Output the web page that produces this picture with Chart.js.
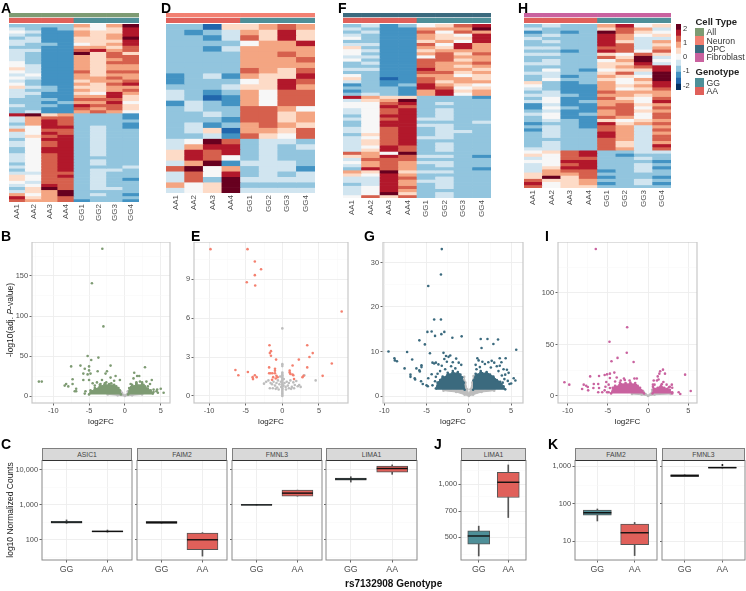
<!DOCTYPE html>
<html>
<head>
<meta charset="utf-8">
<title>rs7132908 genotype figure</title>
<script src="https://cdn.jsdelivr.net/npm/chart.js@4"></script>
<style>
html, body { margin: 0; padding: 0; background: #fff; }
#page { position: relative; width: 746px; height: 591px; overflow: hidden; font-family: "Liberation Sans", Arial, sans-serif; filter: blur(0.3px); }
#page canvas { position: absolute; }
.txt { position: absolute; white-space: nowrap; line-height: 1; }
.letter { font-weight: bold; font-size: 14px; color: #000; }
.strip { position: absolute; box-sizing: border-box; background: #D9D9D9; border: 1px solid #7F7F7F; border-bottom-color: #333; font-size: 6.8px; color: #444; text-align: center; line-height: 11px; }
.swatch { position: absolute; width: 9px; }
</style>
</head>
<body>
<div id="page"></div>
<script>
// sample and colour keys
var samples = ['AA1', 'AA2', 'AA3', 'AA4', 'GG1', 'GG2', 'GG3', 'GG4'];
var rdbu = ['#053061', '#2166AC', '#4393C3', '#92C5DE', '#D1E5F0', '#F7F7F7', '#FDDBC7', '#F4A582', '#D6604D', '#B2182B', '#67001F'];
var scaleEdges = [-2.31, -1.89, -1.47, -1.05, -0.63, -0.21, 0.21, 0.63, 1.05, 1.47, 1.89, 2.31];
var scaleTicks = [-2, -1, 0, 1, 2];
var cellTypes = ['All', 'Neuron', 'OPC', 'Fibroblast'];
var cellColors = ['#7E9B73', '#F28072', '#3B6A7E', '#C9629F'];
var genotypes = ['GG', 'AA'];
var genoColors = ['#4E8F98', '#E0605A'];

// heatmap rows, binned z-score as rdbu step (-5..5), one row per line
var heatA = [
[-2,-2,-2,-2,2,0,2,5],[-1,-2,-3,-2,1,0,1,4],[0,-1,-3,-3,2,1,1,4],[-1,-2,-3,-3,2,1,2,4],[-2,-1,-3,-3,1,1,2,5],
[-1,-1,-3,-3,1,1,1,4],[-1,-2,-2,-3,0,1,2,4],[-2,-2,-3,-3,2,2,1,3],[-1,-1,-3,-3,3,4,2,3],[-1,-2,-3,-3,5,1,3,1],
[-1,-2,-3,-3,2,1,3,3],[-1,-2,-3,-3,2,1,2,3],[0,-2,-3,-3,2,1,3,3],[0,-1,-3,-3,2,1,2,2],[1,-1,-3,-3,2,1,2,2],
[0,-1,-3,-3,3,1,3,3],[-1,0,-3,-3,2,1,2,2],[0,-1,-3,-3,2,2,3,2],[-1,-2,-3,-3,1,2,2,3],[0,-2,-3,-3,2,1,3,4],
[1,-1,-2,-3,1,1,2,2],[-1,-2,-2,-3,2,1,2,3],[-1,-1,-3,-3,1,0,4,2],[-1,-2,-3,-3,2,2,4,1],[-2,-2,-2,-3,3,3,3,1],
[-2,-2,-3,-2,2,2,4,0],[-1,-2,-2,-3,4,3,3,1],[-2,-2,-3,-3,3,2,3,1],[-2,-1,-3,-3,2,3,2,0],
[4,5,1,2,-2,-2,-2,-3],[-1,2,3,3,-2,-2,-2,-3],[-1,2,4,3,-2,-2,-2,-2],[-2,2,4,3,-2,-2,-2,-3],[-1,0,4,4,-2,-1,-2,-3],
[2,0,3,3,-2,-1,-2,-2],[-1,0,4,3,-2,-1,-2,-2],[-1,1,3,4,-2,-1,-2,-2],[-2,0,4,4,-2,-1,-2,-2],[-1,0,3,4,-2,-1,-2,-2],
[-1,0,3,4,-2,-1,-2,-2],[-2,0,4,4,-2,-1,-2,-2],[-2,0,4,4,-2,-1,-2,-2],[-1,0,3,4,-2,-1,-2,-2],[-1,0,3,4,-2,-2,-2,-2],
[-1,0,3,4,-2,-1,-2,-2],[-2,0,3,4,-2,-1,-2,-2],[-1,0,3,4,-2,-2,-2,-1],[-2,0,3,4,-2,-1,-1,-2],[-1,-1,3,3,-2,-1,-2,-2],
[1,0,3,4,-2,-1,-2,-2],[1,0,3,3,-2,-1,-2,-3],[0,-1,3,3,-2,-1,-2,-2],[-1,0,4,3,-2,-1,-2,-2],[-2,1,5,3,-2,-1,-1,-2],
[-1,1,2,5,-2,-2,-2,-2],[2,0,2,5,-2,-1,-2,-3],[4,1,2,3,-2,-2,-2,-2],[3,2,2,3,-3,-2,-2,-3]
];
var heatD = [
[-2,-2,-4,1,1,2,3,2],[-2,-3,-2,-1,2,1,4,1],[-2,-2,-3,-1,3,1,4,1],[-2,-2,-2,-2,0,2,2,4],[-2,-2,-3,-1,2,2,2,2],
[-2,-2,-2,-2,2,2,3,2],[-2,-2,-2,-2,2,2,2,3],[-2,-2,-2,-2,2,2,2,2],[-2,-2,-2,-2,3,2,1,3],[-3,-2,-1,-3,2,1,1,4],
[-3,-2,-2,-2,0,1,4,3],[-2,-2,-2,-1,1,1,4,2],[-1,-2,-3,-2,2,0,3,3],[-1,-2,-4,-3,2,0,3,3],[-3,-1,-2,-3,2,0,3,3],
[-2,-1,-2,-2,3,3,2,0],[-2,-2,-1,-2,3,3,1,2],[-2,-2,-2,-3,3,3,1,2],[-2,-1,-3,-2,2,3,2,1],[-2,-1,1,-4,2,2,1,3],
[-2,-2,-1,-3,3,1,0,3],
[-1,0,5,3,-2,-1,-1,-2],[-1,2,4,4,-2,-1,-2,-1],[1,4,3,4,-2,-1,-2,-2],[1,4,3,0,-2,-1,-2,-2],[-1,2,5,-3,-1,-1,-1,-2],
[3,5,0,2,-2,-1,-1,-3],[-1,3,0,4,-2,-1,-2,-1],[-1,3,-2,5,-1,-1,-1,-1],[2,0,1,5,-2,-2,-2,-2],[-1,0,1,5,-1,-1,-1,-1]
];
var heatF = [
[-2,-1,-3,-2,0,1,3,4],[-1,-2,-3,-3,2,2,2,5],[-2,-1,-3,-3,3,0,3,2],[-1,-2,-3,-3,2,1,0,4],[0,-2,-3,-3,2,1,1,4],
[-2,-2,-3,-3,1,2,0,4],[-1,-1,-3,-3,3,0,4,2],[1,-2,-3,-3,2,1,4,2],[0,-1,-3,-3,1,2,2,2],[0,-2,-3,-3,2,3,1,3],
[-1,-1,-3,-3,0,3,2,2],[0,-2,-3,-3,3,3,1,2],[-2,-1,-3,-3,3,2,2,3],[-2,-2,-3,-3,3,2,1,2],[-1,-1,-3,-3,4,2,2,1],
[-2,-2,-3,-3,3,3,1,2],[0,-2,-3,-3,2,2,0,1],[1,-2,-4,-3,3,2,2,1],[-1,-2,-3,-3,3,1,2,2],[-3,-2,-3,-2,4,2,1,0],
[-2,-2,-2,-3,4,3,0,1],[-3,-2,-2,-3,2,4,1,2],[-2,-1,-2,-3,2,4,0,2],
[4,2,1,1,-2,-2,-2,-3],[-1,1,2,5,-2,-2,-2,-2],[0,0,3,4,-2,-1,-2,-2],[0,0,4,3,-2,-2,-2,-2],[-1,0,3,4,-2,-1,-2,-2],
[-1,0,3,4,-2,-1,-2,-2],[-2,0,4,4,-2,-1,-2,-2],[-1,0,3,4,-1,-1,-2,-2],[-2,0,4,4,-2,-2,-2,-1],[-2,0,4,4,-1,-1,-2,-2],
[-1,0,3,4,-2,-1,-2,-2],[-1,0,3,4,-2,-1,-1,-2],[-2,1,3,4,-2,-1,-2,-2],[-1,0,3,4,-1,-1,-2,-2],[-1,1,3,4,-2,-2,-2,-2],
[-1,1,3,4,-2,-1,-2,-2],[-1,0,4,3,-2,-1,-2,-2],[-1,1,4,3,-2,-1,-2,-2],[3,2,0,5,-2,-2,-2,-2],[1,2,4,3,-1,-1,-2,-3],
[-1,3,3,3,-2,-2,-2,-2],[0,2,3,2,-1,-1,-2,-2],[-1,2,3,2,-2,-1,-2,-2],[-2,4,3,2,-2,-2,-2,-3],[2,1,5,1,-1,-1,-2,-2],
[1,0,4,2,-2,-2,-2,-2],[-1,-1,4,3,-2,-1,-2,-2],[-1,-1,4,2,-1,-1,-2,-2],[-2,-1,4,2,-2,-1,-2,-2],[-1,0,4,3,-2,-1,-2,-2],
[-1,0,4,2,-2,-2,-2,-2],[-1,0,5,1,-2,-1,-2,-2],[0,3,1,3,-2,-1,-2,-2]
];
var heatH = [
[-2,-1,-2,-2,2,4,0,1],[-1,-2,-2,-2,1,3,2,-1],[-3,-2,-3,-2,5,3,1,0],[-2,-1,-2,-2,4,2,0,1],[-1,-2,-2,-2,4,2,-1,-1],
[-2,-1,-2,-2,4,1,-1,2],[-2,-2,-2,-2,4,3,-1,1],[-1,-1,-2,-2,3,3,-1,2],[-2,-2,-3,-2,4,3,0,3],[-1,-1,-2,-2,1,0,3,1],
[-2,-2,-2,-2,3,1,5,-1],[-2,-1,-2,-2,0,2,5,0],[-1,-1,-2,-2,1,1,4,-1],[-2,-2,-2,-2,1,2,3,4],[-2,0,-2,-3,0,1,1,4],
[-1,-1,-2,-2,1,3,-1,5],[-2,-1,-3,-2,2,1,0,5],[-2,0,-2,-2,1,0,2,5],[1,-2,-3,-2,2,0,1,4],[0,-2,-3,-3,2,1,2,4],
[-1,-2,-3,-3,2,0,1,3],[-2,-1,-3,-3,3,2,2,2],[-1,-1,-2,-3,2,2,1,2],[-2,0,-3,-3,3,1,0,3],[-1,0,-3,-2,2,2,0,4],
[-3,-1,-3,-3,2,3,1,2],[-3,0,-2,-3,3,3,0,3],[-2,-1,-3,-3,2,3,1,2],[-1,0,-3,-2,2,3,0,3],[-2,0,-3,-3,3,2,0,3],
[-2,-1,-2,-3,1,0,1,2],[-3,-2,-2,-3,4,1,2,3],[-2,-1,-2,-3,3,2,-1,2],[-3,-1,-2,-2,3,2,-1,3],[-2,-1,-2,-2,4,2,-1,2],
[-2,-1,-2,-2,4,2,-1,3],[-2,-2,-2,-2,3,2,-1,3],[-2,-1,-2,-2,3,1,-1,2],[-2,-1,-2,-2,3,1,-1,4],[-1,-1,-2,-2,3,2,-1,3],
[0,1,3,4,-2,-2,-1,-1],[1,0,3,4,-2,-3,-2,-2],[-1,0,3,3,-2,-2,-1,-2],[0,0,4,4,-2,-2,-2,-3],[-1,0,3,4,-2,-2,-1,-2],
[-1,1,4,4,-2,-2,-1,-3],[-1,2,3,3,-3,-2,-1,-2],[1,2,2,3,-2,-2,-2,-2],[1,5,1,3,-3,-2,-2,-3],[3,1,1,2,-2,-2,-1,-2],
[4,0,1,2,-3,-2,-1,-3],[3,0,1,1,-2,-2,-2,-2]
];

// volcano points, [log2FC, -log10 adj. P]
var volcBDots = [[-3.15,184],[-4.6,141],[-3,87],[-5.2,50],[-4.7,45],[-3.7,48],[-2,38],[-7.5,37],[-6.2,38],[-5.6,34],[-5,37],[-5,32],[-3.8,31],[-2.5,31],[-2.7,28],[-5.8,28],[-5.2,27],[-4.8,28],[-7.3,21],[-5.8,20],[-5,20],[-12,18],[-11.6,18],[-8.2,15],[-8.4,13],[-7.9,12],[-7.3,15],[-6.8,9],[-7,6],[-6.8,6],[-5.5,6],[-5.6,3],[-4.5,16],[-3.2,20],[-2,23],[-1.3,25],[-0.7,20],[-1.5,19],[-3.9,17],[-2.6,17],[-1.9,16],[-3.4,15],[-4.2,13],[2.8,36],[1.3,29],[1.7,25],[2,25],[1.2,22],[3.75,20],[2.1,18],[3,18],[2.4,17],[3.5,15],[4,8],[4.4,6],[5,9],[5.4,4],[4.5,8],[4,5],[3.8,4],[3.2,12],[1.6,17],[0.8,15],[2.6,14],[4.6,4]];
var volcBLeft = [[-5,2],[-4.8,7],[-4.5,6],[-4.2,10],[-3.8,9],[-3.5,14],[-3.2,12],[-2.8,16],[-2.5,13],[-2.2,15],[-1.8,13],[-1.5,14],[-1.2,12],[-0.9,10],[-0.7,7],[-0.55,2]];
var volcBRight = [[0.45,2],[0.6,10],[1,14],[1.3,12],[1.6,16],[2,13],[2.4,15],[2.8,12],[3.2,9],[3.6,7],[3.9,3]];
var volcBGreyTop = [[-2.4,3.5],[-1,4],[-0.6,6],[-0.4,4],[-0.2,1.5],[0,0.6],[0.2,1.5],[0.4,6],[0.6,4],[2.4,3.5]];
var volcBGreyLow = [[-2.4,1.8],[-1,0.8],[0,0],[1,0.8],[2.4,1.8]];

var volcERed = [[-9.8,11.3],[-4.75,11.3],[-3.75,10.35],[-2.9,9.75],[-3.75,9.3],[-4.85,8.75],[-3.7,8.5],[8.1,6.5],[3.4,3.9],[-1.75,3.9],[-1.55,3.45],[-1.7,3.3],[-1.55,3.1],[4.15,3.3],[3.7,3],[-0.85,2.8],[2.25,2.8],[6.75,2.5],[1.4,2.35],[3.4,2.2],[-1.8,2.2],[-6.4,2],[-6,1.6],[-4.7,1.85],[-3.75,1.6],[-3.5,1.45],[-4.05,1.45],[-4,1.3],[5.5,1.55],[-1,2.1],[-1,1.95],[-1.6,1.75],[-1.35,1.75],[-1,1.75],[-1.8,1.75],[1,1.95],[1,1.8],[1.4,1.65],[1.5,1.6],[1.1,1.7],[1.6,1.3],[2.9,1.55],[2.75,1.45],[-0.8,1.55],[-1.25,1.45],[-0.65,1.45],[-1.4,1.25],[-0.9,1.35]];
var volcEGrey = [[0,5.2],[0,2.45],[0,2.3],[0,1.8],[0,1.7],[0,1.6],[0,1.5],[0,1.4],[0,1.3],[0,1.2],[0,1.1],[0,1],[0,0.9],[0,0.8],[0,0.7],[0,0.6],[0,0.5],[0,0.4],[0,0.3],[0,0.2],[0,0.1],[0,0],[4.55,1.2],[-2.2,1.1],[-1.9,1.2],[-1.6,1],[-1.4,0.9],[-1.2,1.1],[-1,0.8],[-0.8,1],[-0.6,1.2],[-0.4,0.9],[-0.3,1.5],[-0.2,1.1],[-0.15,0.7],[0.15,0.8],[0.2,1.3],[0.3,1],[0.45,0.7],[0.6,1.1],[0.75,0.8],[0.9,1],[1.1,1.2],[1.3,0.7],[1.5,1.05],[1.7,0.85],[1.9,1.15],[2.1,0.75],[2.3,0.85],[2.5,0.7],[-1.7,0.6],[-1.3,0.6],[-0.9,0.55],[-0.5,0.5],[0.5,0.5],[0.9,0.6],[1.2,0.55],[1.6,0.6],[-2.5,0.95],[-0.7,0.65],[3,1.6]];

var volcGDots = [[-3.2,33],[-3.3,27.3],[-4.8,24.7],[-4.1,17.2],[-3.3,17.2],[-4.9,14.4],[-4.4,14.5],[-2.9,14.4],[-3.25,13.9],[-4,13.5],[-0.85,13.4],[-1.95,13.1],[-5.85,12.5],[-5.2,11.6],[1.4,12.8],[2.2,12.8],[3.45,12.7],[2.9,11.7],[1.5,10.8],[5.6,10.4],[-9.5,10],[-7.3,9.9],[-4.6,9.6],[-3,9.7],[-8.8,8.5],[-8.75,8],[-8.5,7.8],[-6.7,8.2],[-7.6,6.2],[-5.6,6.9],[-5.6,6.5],[-6.2,6.2],[-5.85,5.8],[-5.8,5.5],[-6.9,4.8],[-6.9,4.3],[-6.4,4],[-6.35,3.7],[-5.65,3.3],[-5.45,2.7],[-5,2.4],[-4.85,2.2],[-4.8,4],[-4.3,7.5],[-4.1,7.3],[-3.9,7.5],[-3.6,7.1],[-3.2,6.8],[-2.9,8.3],[-2.7,9],[-2.4,8.8],[-2.2,9.1],[-2.6,7.7],[-1.9,7.6],[-1.5,8.4],[-1.2,7.5],[-0.9,7],[-2.1,6.7],[-3.4,5.6],[-4.4,4.9],[-4,3.3],[-4.3,2.4],[-3.7,5],[-3.9,4.3],[-1.6,6.2],[-2.8,6],[5.3,4],[5.5,3.5],[4.8,2.7],[5,2.8],[4.7,5.2],[4.35,8.5],[3.65,8.5],[3.85,7.6],[3.65,6.8],[2.7,7.9],[1,8.5],[1.15,8],[1.6,7.7],[0.8,7],[1.9,7.2],[2.3,7.6],[3,7.5],[3.3,6.7],[4.1,6],[4.5,5.9],[4.3,4.8],[4.6,3.4],[3.9,4.6],[3.5,5.6],[2.6,6.4],[1.3,6.5],[0.9,6],[4.2,3.8],[4,3]];
var volcGLeft = [[-3.9,1.7],[-3.7,3],[-3.4,3.6],[-3.1,4.4],[-2.8,4.2],[-2.5,5.2],[-2.2,4.8],[-1.9,5.6],[-1.6,5],[-1.3,5.4],[-1,4.8],[-0.8,4.2],[-0.6,3],[-0.5,1.4]];
var volcGRight = [[0.5,1.4],[0.55,3.5],[0.8,5],[1.1,4.8],[1.4,5.6],[1.8,5],[2.1,5.4],[2.5,4.8],[2.9,4.4],[3.3,3.6],[3.7,3.2],[4.1,2.2],[4.3,1.5]];
var volcGGreyTop = [[-3,1.5],[-1,1.6],[-0.7,3],[-0.55,4.3],[-0.4,3],[-0.2,1.5],[0,0.4],[0.2,1.5],[0.4,3],[0.55,4.5],[0.7,2],[1,1.6],[3,1.5]];
var volcGGreyLow = [[-3,1.2],[-1.5,0.9],[-0.5,0.3],[0,0],[0.5,0.3],[1.5,0.9],[3,1.2]];

var volcIDots = [[-6.5,142.7],[-2.6,66.7],[-4.8,52.7],[-2.65,42],[-3.8,37],[-4.55,33.7],[-1.8,33],[-4.2,22.7],[-4.75,21.7],[-5.1,21],[-5.4,20.4],[-7.2,19],[-6.1,19.4],[-10.4,13.3],[-9.8,11],[-8,11],[-7.7,10],[-7.5,8.7],[-8.2,6.8],[-7.45,5.5],[-6.8,7.8],[-6.75,11.6],[-6.2,11.6],[-6.1,7.8],[-6.2,3.6],[-5.7,3.6],[-5.4,5.5],[-5.1,3.6],[-4.9,3.6],[-4.75,7.8],[-5.2,13.6],[-4.75,17.5],[-3.9,18],[-4.1,14],[-1.7,17],[-1.4,17],[-3.4,15],[-2.9,15.5],[-2.3,15],[-3,17],[-5.3,9],[-4.9,11],[1.85,25.6],[1.5,24],[1.4,21.7],[2.1,21.7],[1.2,19],[1.1,15],[0.7,15],[1.3,16],[4.6,20.7],[5.3,4.9],[3.8,3.6],[4,2],[2.95,11],[2.6,8.5],[3,8],[3,3.6],[1.9,13.6],[2.3,11],[0.8,11],[1.7,11.5],[2.7,9],[0.6,11]];
var volcILeft = [[-4.6,2.5],[-4.4,8],[-4.1,10],[-3.8,9],[-3.5,13],[-3.1,11],[-2.8,12.5],[-2.5,11],[-2.2,13],[-1.9,11],[-1.6,12.5],[-1.3,10],[-1,8],[-0.7,5],[-0.5,2.5]];
var volcIRight = [[0.55,2.5],[0.6,9],[0.8,7],[1.2,8],[1.6,10],[2,8],[2.4,7],[2.7,6],[3,2.5]];
var volcIGreyTop = [[-2,2.8],[-0.8,3.2],[-0.55,4],[-0.3,1.8],[0,0.4],[0.3,1.8],[0.5,6],[0.6,3],[2.8,2.8]];
var volcIGreyLow = [[-2,2],[-0.8,1.2],[0,0],[0.8,1.2],[2.8,2]];

// boxplots, each gene [GG, AA] with whisker low, q1, median, q3, whisker high
var boxGroups = ['GG', 'AA'];
var asic1 = [[295, 300, 320, 340, 370], [165, 170, 173, 180, 190]];
var faim2 = [[295, 295, 310, 335, 335], [34, 52, 100, 155, 160]];
var fmnl3 = [[985, 985, 1000, 1020, 1020], [1780, 1780, 2170, 2640, 2640]];
var lima1 = [[4500, 5100, 5500, 5900, 6400], [7500, 8700, 11000, 13000, 14000]];
var lima1Fib = [[390, 456, 507, 543, 577], [646, 840, 1026, 1170, 1288]];
var faim2Fib = [[35, 50, 58, 68, 73], [4.2, 8.2, 17, 29, 32]];
var fmnl3Fib = [[530, 530, 563, 600, 600], [890, 890, 920, 950, 950]];
var fmnl3FibOut = [1080];
var ticksC = [100, 1000, 10000];
var minorC = [31.6, 316, 3160];
var ticksJ = [500, 700, 1000];
var minorJ = [400, 600, 850, 1200];
var ticksK = [10, 100, 1000];
var minorK = [3.16, 31.6, 316];

var page = document.getElementById('page');
var FONT = '"Liberation Sans", Arial, sans-serif';
var TICK = '#4D4D4D';

function text(str, x, y, cls, css) {
	var d = document.createElement('div');
	d.className = 'txt ' + (cls || '');
	d.innerHTML = str;
	d.style.left = x + 'px';
	d.style.top = y + 'px';
	if (css) d.style.cssText += css;
	page.appendChild(d);
	return d;
}

// canvas placed so that the chart area lands on box = [left, top, right, bottom]
function addChart(box, m, config) {
	var c = document.createElement('canvas');
	c.style.left = (box[0] - m.l) + 'px';
	c.style.top = (box[1] - m.t) + 'px';
	c.width = box[2] - box[0] + m.l + m.r;
	c.height = box[3] - box[1] + m.t + m.b;
	page.appendChild(c);
	config.options = config.options || {};
	config.options.responsive = false;
	config.options.animation = false;
	config.options.layout = { autoPadding: false, padding: { top: m.t, right: m.rp === undefined ? m.r : m.rp, left: 0, bottom: 0 } };
	config.options.plugins = config.options.plugins || {};
	config.options.plugins.legend = { display: false };
	config.options.plugins.tooltip = { enabled: false };
	return new Chart(c, config);
}

// fixed axis thickness, and no extra room for labels at the axis ends
function fitAxis(prop, size) {
	return function(s) {
		s[prop] = size;
		s.paddingTop = 0;
		s.paddingBottom = 0;
		s.paddingLeft = 0;
		s.paddingRight = 0;
	};
}

var frame = {
	id: 'frame',
	afterDatasetsDraw: function(chart, args, opts) {
		var a = chart.chartArea, ctx = chart.ctx;
		ctx.save();
		ctx.strokeStyle = opts.color;
		ctx.lineWidth = opts.width;
		ctx.strokeRect(a.left, a.top, a.right - a.left, a.bottom - a.top);
		ctx.restore();
	}
};

function heatmap(rows, box, cell) {
	var sets = rows.map(function(row) {
		return {
			data: row.map(function() { return 1; }),
			backgroundColor: row.map(function(v) { return rdbu[v + 5]; }),
			borderWidth: 0, barPercentage: 1, categoryPercentage: 1
		};
	});
	addChart(box, { l: 0, r: 0, t: 0, b: 24 }, {
		type: 'bar',
		data: { labels: samples, datasets: sets },
		options: { scales: {
			x: { stacked: true, grid: { display: false, drawTicks: false }, border: { display: false },
				ticks: { minRotation: 90, maxRotation: 90, autoSkip: false, padding: 2, color: TICK, font: { family: FONT, size: 8 } },
				afterFit: fitAxis('height', 24) },
			y: { display: false, stacked: true, reverse: true, min: 0, max: rows.length }
		} }
	});
	// annotation bars over the heatmap
	var geno = samples.map(function(s) { return s.indexOf('AA') == 0 ? genoColors[1] : genoColors[0]; });
	addChart([box[0], 13, box[2], 23], { l: 0, r: 0, t: 0, b: 0 }, {
		type: 'bar',
		data: { labels: samples, datasets: [
			{ data: samples.map(function() { return 4.8; }), backgroundColor: geno },
			{ data: samples.map(function() { return 0.6; }), backgroundColor: '#fff' },
			{ data: samples.map(function() { return 4.6; }), backgroundColor: cell }
		] },
		options: {
			datasets: { bar: { borderWidth: 0, barPercentage: 1, categoryPercentage: 1 } },
			scales: { x: { display: false, stacked: true }, y: { display: false, stacked: true, min: 0, max: 10 } }
		}
	});
}

function gridOpts(major) {
	function isMajor(c) { return c.tick && major.indexOf(c.tick.value) >= 0; }
	return {
		offset: false,
		color: function(c) { return isMajor(c) ? '#EDEDED' : '#F6F6F6'; },
		lineWidth: function(c) { return isMajor(c) ? 0.9 : 0.5; },
		tickColor: function(c) { return isMajor(c) ? '#555' : 'rgba(0,0,0,0)'; },
		tickLength: 2.5
	};
}

function axisTicks(major, minor, fmt) {
	return {
		after: function(s) {
			s.ticks = major.concat(minor).map(function(v) { return { value: v }; });
		},
		ticks: {
			autoSkip: false, maxRotation: 0, minRotation: 0, padding: 1.5, color: TICK, font: { family: FONT, size: 7.4 },
			callback: function(v) { return major.indexOf(v) >= 0 ? (fmt ? fmt(v) : String(v)) : ''; }
		}
	};
}

function dots(points, color) {
	return { data: points, backgroundColor: color, borderWidth: 0, pointRadius: 1.3, pointBorderWidth: 0 };
}
function blob(points, color, fill) {
	return { data: points, showLine: true, fill: fill, backgroundColor: color, borderColor: color, borderWidth: 1, pointBackgroundColor: color, pointRadius: 1.3, pointBorderWidth: 0, tension: 0 };
}

function volcano(box, sets, xr, yr, xMajor, xMinor, yMajor, yMinor) {
	var xt = axisTicks(xMajor, xMinor), yt = axisTicks(yMajor, yMinor);
	addChart(box, { l: 26, r: 2, t: 0, b: 26 }, {
		type: 'scatter',
		data: { datasets: sets },
		plugins: [frame],
		options: {
			plugins: { frame: { color: '#C8C8C8', width: 1.2 } },
			scales: {
				x: { type: 'linear', min: xr[0], max: xr[1], grid: gridOpts(xMajor), border: { display: false }, ticks: xt.ticks, afterBuildTicks: xt.after,
					afterFit: fitAxis('height', 26),
					title: { display: true, text: 'log2FC', color: '#222', padding: { top: 0, bottom: 2 }, font: { family: FONT, size: 8 } } },
				y: { type: 'linear', min: yr[0], max: yr[1], grid: gridOpts(yMajor), border: { display: false }, ticks: yt.ticks, afterBuildTicks: yt.after,
					afterFit: fitAxis('width', 26) }
			}
		}
	});
}

function boxPanel(box, l, gene, outlier, title, yr, major, minor, width, fmt, showY) {
	var yt = axisTicks(major, minor, fmt);
	var xt = axisTicks([1, 2], [], function(v) { return boxGroups[v - 1]; });
	xt.ticks.font = { family: FONT, size: 8.8 };
	xt.ticks.padding = 2;
	var sets = [
		{ type: 'line', showLine: false, data: gene.map(function(g, i) { return { x: i + 1, y: g[2] }; }), pointStyle: 'line', pointRadius: width / 2, pointBorderWidth: 1.4, pointBorderColor: '#111' },
		{ data: gene.map(function(g, i) { return { x: i + 1, y: [g[1], g[3]] }; }), backgroundColor: [genoColors[0], genoColors[1]], borderColor: '#555', borderWidth: 1, barThickness: width, grouped: false, borderSkipped: false },
		{ data: gene.map(function(g, i) { return { x: i + 1, y: [g[0], g[4]] }; }), backgroundColor: '#555', borderWidth: 0, barThickness: 1, grouped: false }
	];
	if (outlier) sets.unshift({ type: 'line', showLine: false, data: outlier.map(function(v) { return { x: 2, y: v }; }), pointRadius: 1, backgroundColor: '#111', borderWidth: 0 });
	addChart(box, { l: l, r: 1, t: 0, b: 16 }, {
		type: 'bar',
		data: { datasets: sets },
		plugins: [frame],
		options: {
			plugins: { frame: { color: '#8A8A8A', width: 1 } },
			scales: {
				x: { type: 'linear', offset: false, min: 0.4, max: 2.6, grid: gridOpts([1, 2]), border: { display: false }, ticks: xt.ticks, afterBuildTicks: xt.after,
					afterFit: fitAxis('height', 16) },
				y: { type: 'logarithmic', bounds: 'data', min: yr[0], max: yr[1], grid: gridOpts(major), border: { display: false },
					ticks: showY ? yt.ticks : { display: false }, afterBuildTicks: yt.after,
					afterFit: fitAxis('width', l) }
			}
		}
	});
	var st = document.createElement('div');
	st.className = 'strip';
	st.textContent = title;
	st.style.cssText = 'left:' + box[0] + 'px;top:448px;width:' + (box[2] - box[0]) + 'px;height:13px;';
	page.appendChild(st);
}

function comma(v) { return v.toLocaleString('en-US'); }

// heatmaps
heatmap(heatA, [9, 24, 139, 202], cellColors[0]);
heatmap(heatD, [166, 24, 315, 193], cellColors[1]);
heatmap(heatF, [343, 24, 491, 198], cellColors[2]);
heatmap(heatH, [524, 24, 671, 188], cellColors[3]);

// colour key
addChart([676, 24, 681, 90], { l: 0, r: 12, rp: 0, t: 0, b: 0 }, {
	type: 'bar',
	data: { labels: ['z'], datasets: rdbu.map(function(col, i) {
		return { data: [[scaleEdges[i], scaleEdges[i + 1]]], backgroundColor: col, borderWidth: 0, barPercentage: 1, categoryPercentage: 1, grouped: false };
	}) },
	options: { scales: {
		x: { display: false },
		y: { position: 'right', min: -2.3, max: 2.31, grid: { display: false, drawTicks: false }, border: { display: false },
			afterBuildTicks: function(s) { s.ticks = scaleTicks.map(function(v) { return { value: v }; }); },
			ticks: { padding: 2, color: '#333', font: { family: FONT, size: 7.5 } },
			afterFit: fitAxis('width', 12) }
	} }
});

// legends
text('Cell Type', 695.5, 16.5, '', 'font-weight:bold;font-size:9.5px;color:#222;');
cellTypes.forEach(function(name, i) {
	var y = 28 + i * 8.4;
	var sw = document.createElement('div');
	sw.className = 'swatch';
	sw.style.cssText = 'left:695px;top:' + y + 'px;height:8.4px;background:' + cellColors[i] + ';';
	page.appendChild(sw);
	text(name, 706.5, y + 0.2, '', 'font-size:8.7px;color:#333;');
});
text('Genotype', 695.5, 67, '', 'font-weight:bold;font-size:9.5px;color:#222;');
genotypes.forEach(function(name, i) {
	var y = 78.3 + i * 8.4;
	var sw = document.createElement('div');
	sw.className = 'swatch';
	sw.style.cssText = 'left:695px;top:' + y + 'px;height:8.4px;background:' + genoColors[i] + ';';
	page.appendChild(sw);
	text(name, 706.5, y + 0.2, '', 'font-size:8.7px;color:#333;');
});

// volcano plots
var GREY = '#BDBDBD';
volcano([32, 242, 170, 403], [
	dots(volcBDots, cellColors[0]),
	blob(volcBLeft, cellColors[0], { value: 2 }),
	blob(volcBRight, cellColors[0], { value: 2 }),
	blob(volcBGreyTop, GREY, '+1'),
	blob(volcBGreyLow, GREY, false)
], [-12.96, 6.29], [-8.75, 192.5], [-10, -5, 0, 5], [-12.5, -7.5, -2.5, 2.5], [0, 50, 100, 150], [25, 75, 125, 175]);

volcano([194, 242, 348, 403], [
	dots(volcERed, '#F4806F'),
	dots(volcEGrey, GREY)
], [-12.05, 8.96], [-0.54, 11.85], [-10, -5, 0, 5], [-7.5, -2.5, 2.5, 7.5], [0, 3, 6, 9], [1.5, 4.5, 7.5, 10.5]);

volcano([383, 242, 523, 403], [
	dots(volcGDots, cellColors[2]),
	blob(volcGLeft, cellColors[2], { value: 1.4 }),
	blob(volcGRight, cellColors[2], { value: 1.4 }),
	blob(volcGGreyTop, GREY, '+1'),
	blob(volcGGreyLow, GREY, false)
], [-10.15, 6.4], [-1.57, 34.6], [-10, -5, 0, 5], [-7.5, -2.5, 2.5], [0, 10, 20, 30], [5, 15, 25]);

volcano([558, 242, 697, 403], [
	dots(volcIDots, cellColors[3]),
	blob(volcILeft, cellColors[3], { value: 2.5 }),
	blob(volcIRight, cellColors[3], { value: 2.5 }),
	blob(volcIGreyTop, GREY, '+1'),
	blob(volcIGreyLow, GREY, false)
], [-11.2, 6.08], [-6.8, 149.5], [-10, -5, 0, 5], [-7.5, -2.5, 2.5], [0, 50, 100], [25, 75, 125]);

// boxplots
var yrC = [26.3, 19300], yrJ = [370, 1374], yrK = [3.2, 1468];
boxPanel([42, 460, 132, 560], 30, asic1, null, 'ASIC1', yrC, ticksC, minorC, 31, comma, true);
boxPanel([137, 460, 227, 560], 2, faim2, null, 'FAIM2', yrC, ticksC, minorC, 31, comma, false);
boxPanel([232, 460, 322, 560], 2, fmnl3, null, 'FMNL3', yrC, ticksC, minorC, 31, comma, false);
boxPanel([326, 460, 417, 560], 2, lima1, null, 'LIMA1', yrC, ticksC, minorC, 31, comma, false);
boxPanel([461, 460, 526, 560], 30, lima1Fib, null, 'LIMA1', yrJ, ticksJ, minorJ, 22, comma, true);
boxPanel([575, 460, 657, 560], 30, faim2Fib, null, 'FAIM2', yrK, ticksK, minorK, 28, comma, true);
boxPanel([662, 460, 745, 560], 2, fmnl3Fib, fmnl3FibOut, 'FMNL3', yrK, ticksK, minorK, 28, comma, false);

// axis titles and panel letters
text('-log10(adj. <i>P</i>-value)', 10, 320, '', 'font-size:8.5px;color:#222;transform:translate(-50%,-50%) rotate(-90deg);');
text('log10 Normalized Counts', 9.5, 510, '', 'font-size:8.5px;color:#222;transform:translate(-50%,-50%) rotate(-90deg);');
text('rs7132908 Genotype', 345, 579, '', 'font-weight:bold;font-size:10px;color:#111;');
var letters = [['A', 1, 1], ['D', 161, 1], ['F', 338, 1], ['H', 518, 1], ['B', 1, 229], ['E', 191, 229], ['G', 364, 229], ['I', 545, 229], ['C', 1, 437], ['J', 434, 437], ['K', 548, 437]];
letters.forEach(function(l) { text(l[0], l[1], l[2], 'letter'); });
</script>
</body>
</html>
